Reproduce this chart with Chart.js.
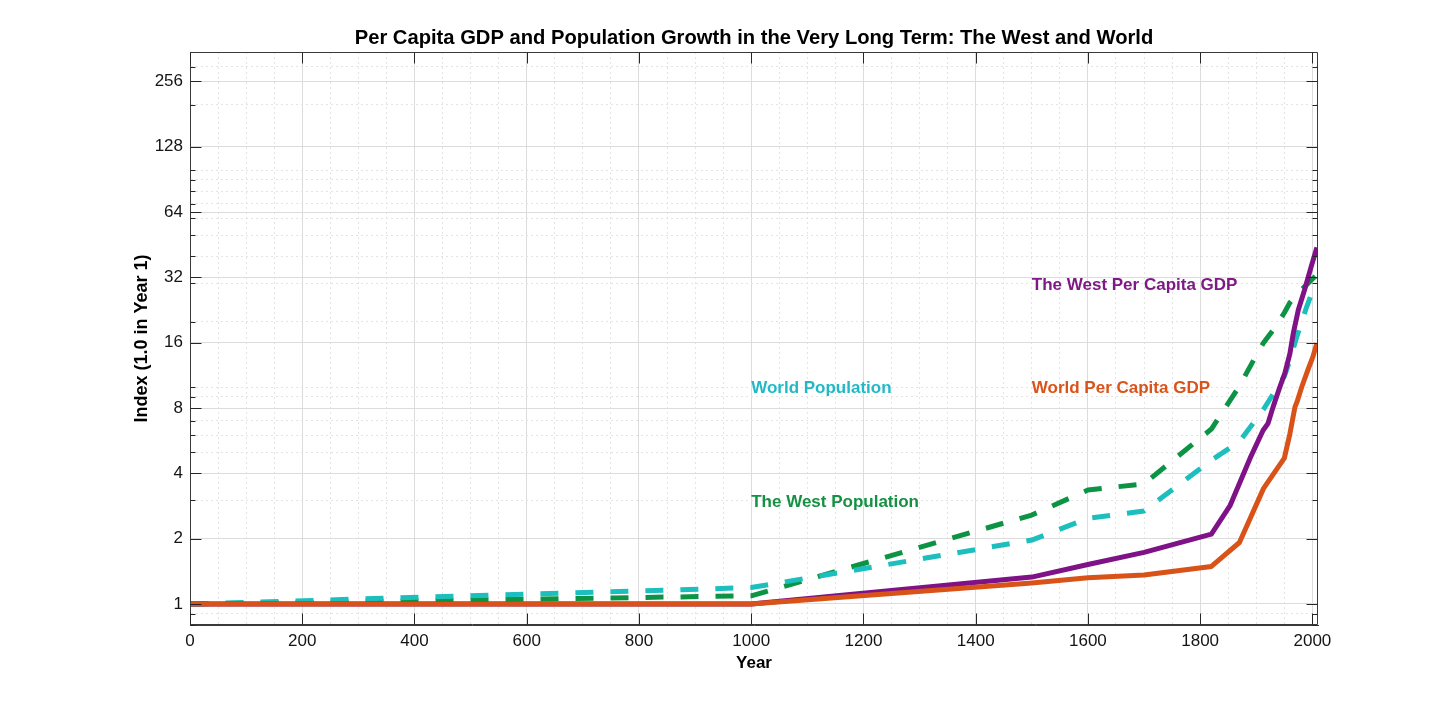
<!DOCTYPE html>
<html>
<head>
<meta charset="utf-8">
<script src="https://cdn.jsdelivr.net/npm/chart.js@4.4.1/dist/chart.umd.min.js"></script>
<style>
html,body{margin:0;padding:0;background:#ffffff;}
#wrap{width:1456px;height:702px;position:relative;}
</style>
</head>
<body>
<div id="wrap"><canvas id="c" width="1456" height="702"></canvas></div>
<script>
// ---- text ----
const titleText = 'Per Capita GDP and Population Growth in the Very Long Term: The West and World';
const xTitleText = 'Year';
const yTitleText = 'Index (1.0 in Year 1)';

// ---- ticks ----
const xTickLabels = [0, 200, 400, 600, 800, 1000, 1200, 1400, 1600, 1800, 2000];
const xMinorGrid = [50, 100, 150, 250, 300, 350, 450, 500, 550, 650, 700, 750, 850, 900, 950,
  1050, 1100, 1150, 1250, 1300, 1350, 1450, 1500, 1550, 1650, 1700, 1750, 1850, 1900, 1950];
const yTickLabels = [1, 2, 4, 8, 16, 32, 64, 128, 256];
const yMinorGrid = [0.8, 0.9, 3, 5, 6, 7, 9, 10, 20, 30, 40, 50, 60, 70, 80, 90, 100, 200, 300];

// ---- series ----
const worldGdpYears  = [1, 1000, 1500, 1600, 1700, 1820, 1870, 1913, 1950, 1960, 1969, 1973, 1981, 1992, 2001, 2008];
const worldGdpValues = [1.0, 1.0, 1.25, 1.32, 1.36, 1.49, 1.92, 3.41, 4.7, 6.1, 8.1, 8.6, 10.0, 12.0, 13.8, 15.9];

const westGdpYears  = [1, 1000, 1500, 1600, 1700, 1820, 1853, 1889, 1912, 1921, 1930, 1942, 1951, 1960, 1966, 1975, 1986, 1998, 2008];
const westGdpValues = [1.0, 1.0, 1.33, 1.52, 1.73, 2.1, 2.83, 4.7, 6.3, 6.8, 8.1, 10.0, 11.6, 14.3, 17.7, 22.7, 28.0, 36.0, 44.0];

const worldPopYears  = [1, 1000, 1500, 1600, 1700, 1820, 1870, 1913, 1940, 1950, 1960, 1973, 1980, 1990, 2000, 2008];
const worldPopValues = [1.0, 1.19, 1.97, 2.48, 2.68, 4.6, 5.6, 7.9, 10.2, 11.2, 13.3, 17.3, 19.6, 23.5, 27.5, 29.7];

const westPopYears  = [1, 1000, 1500, 1600, 1700, 1820, 1870, 1900, 1913, 1936, 1950, 1960, 1973, 2000, 2008];
const westPopValues = [1.0, 1.09, 2.57, 3.35, 3.58, 6.4, 10.1, 14.0, 16.0, 19.2, 22.0, 24.5, 26.8, 31.5, 32.8];

// ---- in-plot labels: text, year, value ----
const labelTexts  = ['The West Per Capita GDP', 'World Population', 'World Per Capita GDP', 'The West Population'];
const labelYears  = [1500, 1000, 1500, 1000];
const labelValues = [29.5, 9.9, 9.9, 2.95];

const COLORS = {
  worldGdp: '#D95319',
  westGdp: '#7E1286',
  worldPop: '#1CBEBE',
  westPop: '#0C9444'
};
const labelColors = ['#7E1A85', '#22B9C6', '#D9531A', '#159143'];
const FONT = '"Liberation Sans", Arial, sans-serif';

function pairs(xs, ys) { return xs.map((x, i) => ({x: x, y: ys[i]})); }

const boxPlugin = {
  id: 'boxTicks',
  afterDatasetsDraw(chart) {
    const {ctx, scales} = chart;
    const xs = scales.x, ys = scales.y;
    ctx.save();
    ctx.font = 'bold 17px ' + FONT;
    ctx.textAlign = 'left';
    ctx.textBaseline = 'middle';
    labelTexts.forEach((t, i) => {
      ctx.fillStyle = labelColors[i];
      ctx.fillText(t, xs.getPixelForValue(labelYears[i]), ys.getPixelForValue(labelValues[i]));
    });
    ctx.restore();
  },
  afterDraw(chart) {
    const {ctx, chartArea: a, scales} = chart;
    const xs = scales.x, ys = scales.y;
    const L = Math.round(a.left) + 0.5, R = Math.round(a.right) - 0.5;
    const T = Math.round(a.top) + 0.5, B = Math.round(a.bottom) - 0.5;
    ctx.save();
    ctx.strokeStyle = '#3a3a3a';
    ctx.lineWidth = 1;
    ctx.beginPath();
    ctx.moveTo(L, T); ctx.lineTo(R, T); ctx.lineTo(R, B); ctx.lineTo(L, B); ctx.closePath();
    ctx.stroke();
    ctx.strokeStyle = '#262626';
    ctx.beginPath();
    xTickLabels.forEach(v => {
      const px = Math.round(xs.getPixelForValue(v)) + 0.5;
      ctx.moveTo(px, B); ctx.lineTo(px, B - 11);
      ctx.moveTo(px, T); ctx.lineTo(px, T + 11);
    });
    yTickLabels.forEach(v => {
      const py = Math.round(ys.getPixelForValue(v)) + 0.5;
      ctx.moveTo(L, py); ctx.lineTo(L + 11, py);
      ctx.moveTo(R, py); ctx.lineTo(R - 11, py);
    });
    yMinorGrid.forEach(v => {
      const py = Math.round(ys.getPixelForValue(v)) + 0.5;
      ctx.moveTo(L, py); ctx.lineTo(L + 5, py);
      ctx.moveTo(R, py); ctx.lineTo(R - 5, py);
    });
    ctx.stroke();
    ctx.fillStyle = '#000000';
    ctx.font = 'bold 20.2px ' + FONT;
    ctx.textAlign = 'center';
    ctx.textBaseline = 'middle';
    ctx.fillText(titleText, (a.left + a.right) / 2, 38);
    ctx.restore();
  }
};

const xAll = xTickLabels.concat(xMinorGrid).sort((a, b) => a - b);
const yAll = yTickLabels.concat(yMinorGrid).sort((a, b) => a - b);

const lineBase = {
  borderWidth: 5,
  pointRadius: 0,
  pointHoverRadius: 0,
  tension: 0,
  fill: false,
  borderCapStyle: 'butt',
  borderJoinStyle: 'round'
};

new Chart(document.getElementById('c'), {
  type: 'line',
  data: {
    datasets: [
      Object.assign({label: 'World Per Capita GDP', data: pairs(worldGdpYears, worldGdpValues), borderColor: COLORS.worldGdp}, lineBase),
      Object.assign({label: 'The West Per Capita GDP', data: pairs(westGdpYears, westGdpValues), borderColor: COLORS.westGdp}, lineBase),
      Object.assign({label: 'World Population', data: pairs(worldPopYears, worldPopValues), borderColor: COLORS.worldPop, borderDash: [18, 17]}, lineBase),
      Object.assign({label: 'The West Population', data: pairs(westPopYears, westPopValues), borderColor: COLORS.westPop, borderDash: [18, 17]}, lineBase)
    ]
  },
  options: {
    responsive: false,
    animation: false,
    devicePixelRatio: 1,
    layout: {padding: {top: 52, right: 138, bottom: 0, left: 0}},
    plugins: {legend: {display: false}, tooltip: {enabled: false}, title: {display: false}},
    scales: {
      x: {
        type: 'linear',
        min: 0,
        max: 2010,
        afterBuildTicks: s => { s.ticks = xAll.map(v => ({value: v})); },
        afterFit: s => { s.height = 77; },
        ticks: {
          autoSkip: false, maxRotation: 0, padding: 6, color: '#141414',
          font: {family: FONT, size: 17},
          callback: v => xTickLabels.includes(v) ? String(v) : ''
        },
        grid: {
          drawTicks: false,
          lineWidth: 1,
          color: c => (c.tick && xTickLabels.includes(c.tick.value)) ? '#dcdcdc' : '#e4e4e4'
        },
        border: {
          display: true, color: '#3a3a3a', width: 1,
          dash: c => (c.tick && !xTickLabels.includes(c.tick.value)) ? [2, 3] : []
        },
        title: {
          display: true, text: xTitleText, color: '#000000',
          font: {family: FONT, size: 17, weight: 'bold'},
          padding: {top: 0, bottom: 28.8}
        }
      },
      y: {
        type: 'logarithmic',
        min: 0.8,
        max: 350,
        afterBuildTicks: s => { s.ticks = yAll.map(v => ({value: v})); },
        afterFit: s => { s.width = 190; },
        ticks: {
          autoSkip: false, padding: 7, color: '#141414',
          font: {family: FONT, size: 17},
          callback: v => yTickLabels.includes(v) ? String(v) : ''
        },
        grid: {
          drawTicks: false,
          lineWidth: 1,
          color: c => (c.tick && yTickLabels.includes(c.tick.value)) ? '#dcdcdc' : '#e4e4e4'
        },
        border: {
          display: true, color: '#3a3a3a', width: 1,
          dash: c => (c.tick && !yTickLabels.includes(c.tick.value)) ? [2, 3] : []
        },
        title: {
          display: true, text: yTitleText, color: '#000000',
          font: {family: FONT, size: 18, weight: 'bold'},
          padding: {top: 131.2, bottom: 0}
        }
      }
    }
  },
  plugins: [boxPlugin]
});
</script>
</body>
</html>
